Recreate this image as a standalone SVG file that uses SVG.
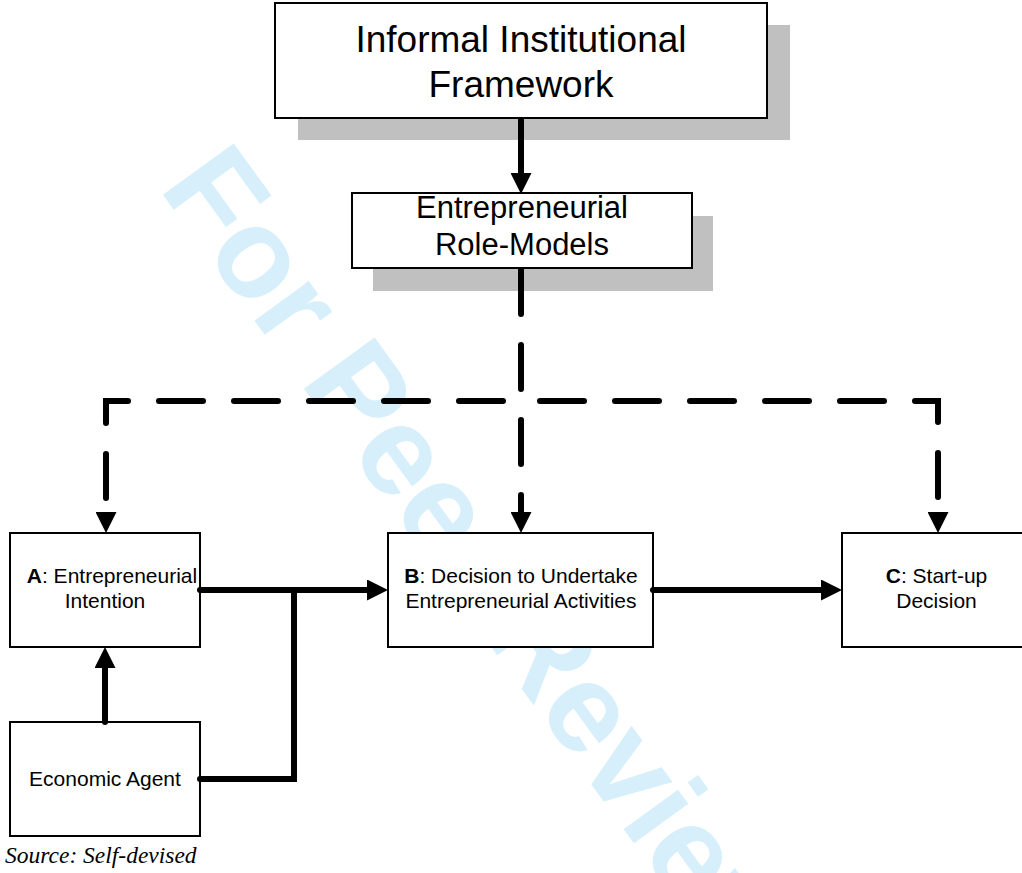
<svg xmlns="http://www.w3.org/2000/svg" width="1022" height="873" viewBox="0 0 1022 873">
  <defs>
    <style>
      .box { fill: #ffffff; stroke: #000000; stroke-width: 2; }
      .shadow { fill: #c0c0c0; stroke: none; }
      .lbl { font-family: "Liberation Sans", Arial, sans-serif; fill: #000000; text-anchor: middle; }
      .big { font-size: 37px; }
      .mid { font-size: 31px; }
      .sm { font-size: 21px; }
      .conn { fill: none; stroke: #000000; stroke-width: 6; stroke-linecap: round; stroke-linejoin: miter; }
      .dash { stroke-dasharray: 44 31; }
      .wm { font-family: "Liberation Sans", Arial, sans-serif; font-weight: bold; font-size: 127px; fill: #d6effb; }
    </style>
    <marker id="arrow" markerUnits="userSpaceOnUse" markerWidth="21" markerHeight="21" refX="0" refY="10.5" orient="auto" viewBox="0 0 21 21">
      <path d="M0,0 L21,10.5 L0,21 Z" fill="#000000"/>
    </marker>
  </defs>
  <rect x="0" y="0" width="1022" height="873" fill="#ffffff"/>

  <g id="watermark">
    <text class="wm" x="0" y="0" transform="translate(158,188) rotate(54)">For Peer Review</text>
  </g>

  <g id="node-informal">
    <rect class="shadow" x="298" y="25" width="492" height="115"/>
    <rect class="box" x="275" y="3" width="492" height="115"/>
    <text class="lbl big" x="521" y="52">Informal Institutional</text>
    <text class="lbl big" x="521" y="97">Framework</text>
  </g>

  <g id="node-rolemodels">
    <rect class="shadow" x="373" y="216" width="340" height="75"/>
    <rect class="box" x="352" y="193" width="340" height="75"/>
    <text class="lbl mid" x="522" y="218">Entrepreneurial</text>
    <text class="lbl mid" x="522" y="255">Role-Models</text>
  </g>

  <g id="node-a">
    <rect class="box" x="10" y="533" width="190" height="114"/>
    <text class="lbl sm" x="112" y="583"><tspan font-weight="bold">A</tspan>: Entrepreneurial</text>
    <text class="lbl sm" x="105" y="608">Intention</text>
  </g>

  <g id="node-b">
    <rect class="box" x="388" y="533" width="265" height="114"/>
    <text class="lbl sm" x="521" y="583"><tspan font-weight="bold">B</tspan>: Decision to Undertake</text>
    <text class="lbl sm" x="521" y="608">Entrepreneurial Activities</text>
  </g>

  <g id="node-c">
    <rect class="box" x="842" y="533" width="190" height="114"/>
    <text class="lbl sm" x="936.5" y="583"><tspan font-weight="bold">C</tspan>: Start-up</text>
    <text class="lbl sm" x="936.5" y="608">Decision</text>
  </g>

  <g id="node-agent">
    <rect class="box" x="10" y="722" width="190" height="114"/>
    <text class="lbl sm" x="105" y="786">Economic Agent</text>
  </g>

  <g id="connectors">
    <path class="conn" d="M521,120 V173" marker-end="url(#arrow)"/>
    <path class="conn dash" d="M521,270 V512" marker-end="url(#arrow)"/>
    <path class="conn dash" d="M503,401 H106 V512" marker-end="url(#arrow)"/>
    <path class="conn dash" d="M540,401 H938 V512" marker-end="url(#arrow)"/>
    <path class="conn" d="M200,590 H367" marker-end="url(#arrow)"/>
    <path class="conn" d="M200,779 H294 V590"/>
    <path class="conn" d="M105,722 V668" marker-end="url(#arrow)"/>
    <path class="conn" d="M653,590 H821" marker-end="url(#arrow)"/>
  </g>

  <text x="5" y="863" font-family="'Liberation Serif', 'Times New Roman', serif" font-style="italic" font-size="23.5" fill="#000000">Source: Self-devised</text>
</svg>
